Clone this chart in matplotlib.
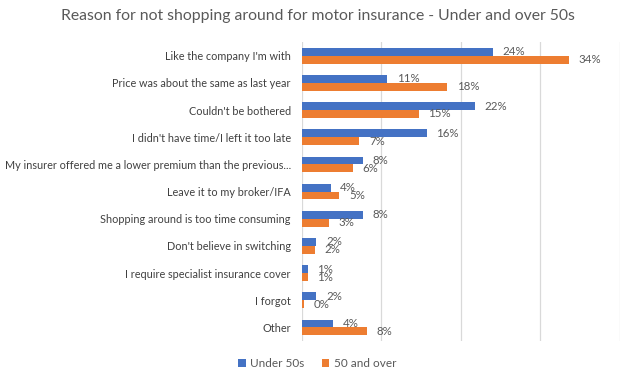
import matplotlib.pyplot as plt
import numpy as np

plt.rcParams["font.family"] = ["Lato", "DejaVu Sans"]

categories = [
    "Like the company I'm with",
    "Price was about the same as last year",
    "Couldn't be bothered",
    "I didn't have time/I left it too late",
    "My insurer offered me a lower premium than the previous...",
    "Leave it to my broker/IFA",
    "Shopping around is too time consuming",
    "Don't believe in switching",
    "I require specialist insurance cover",
    "I forgot",
    "Other",
]
under_50s = [24.0, 10.7, 21.8, 15.7, 7.7, 3.6, 7.7, 1.8, 0.7, 1.8, 3.9]
over_50 = [33.6, 18.3, 14.7, 7.2, 6.4, 4.7, 3.4, 1.6, 0.7, 0.2, 8.2]
series_names = ["Under 50s", "50 and over"]

blue = "#4472C4"
orange = "#ED7D31"
grey = "#595959"

fig = plt.figure(figsize=(6.35, 3.76), dpi=100)
ax = fig.add_axes([0.4756, 0.093, 0.5004, 0.795])

y = np.arange(len(categories))
h = 0.29
ax.barh(y - h / 2, under_50s, height=h, color=blue, label=series_names[0], zorder=3)
ax.barh(y + h / 2, over_50, height=h, color=orange, label=series_names[1], zorder=3)

# data labels, like excel they sit at the bar centre and may touch
for yi, v in zip(y, under_50s):
    ax.annotate(f"{v:.0f}%", (v, yi - h / 2), xytext=(7, 0), textcoords="offset points",
                va="center", ha="left", fontsize=8.3, color=grey)
for yi, v in zip(y, over_50):
    ax.annotate(f"{v:.0f}%", (v, yi + h / 2), xytext=(7, 0), textcoords="offset points",
                va="center", ha="left", fontsize=8.3, color=grey)

ax.set_xlim(0, 40)
ax.set_ylim(len(categories) - 0.5, -0.5)
ax.set_xticks([0, 10, 20, 30, 40])
ax.set_xticklabels([])
ax.tick_params(axis="x", length=0)
ax.set_yticks(y)
ax.set_yticklabels(categories, fontsize=7.8, color="#404040")
ax.tick_params(axis="y", length=0, pad=8)
ax.grid(axis="x", color="#d9d9d9", linewidth=0.9, zorder=0)
ax.grid(axis="y", visible=False)
for s in ax.spines.values():
    s.set_visible(False)

fig.suptitle("Reason for not shopping around for motor insurance - Under and over 50s",
             x=0.5, y=0.975, fontsize=11.3, color=grey)

fig.legend(loc="lower center", bbox_to_anchor=(0.5, -0.01), ncol=2, frameon=False,
           fontsize=8.5, labelcolor=grey, handlelength=0.6, handleheight=0.6,
           columnspacing=1.5, handletextpad=0.4)

fig.savefig("out.png", dpi=100)
